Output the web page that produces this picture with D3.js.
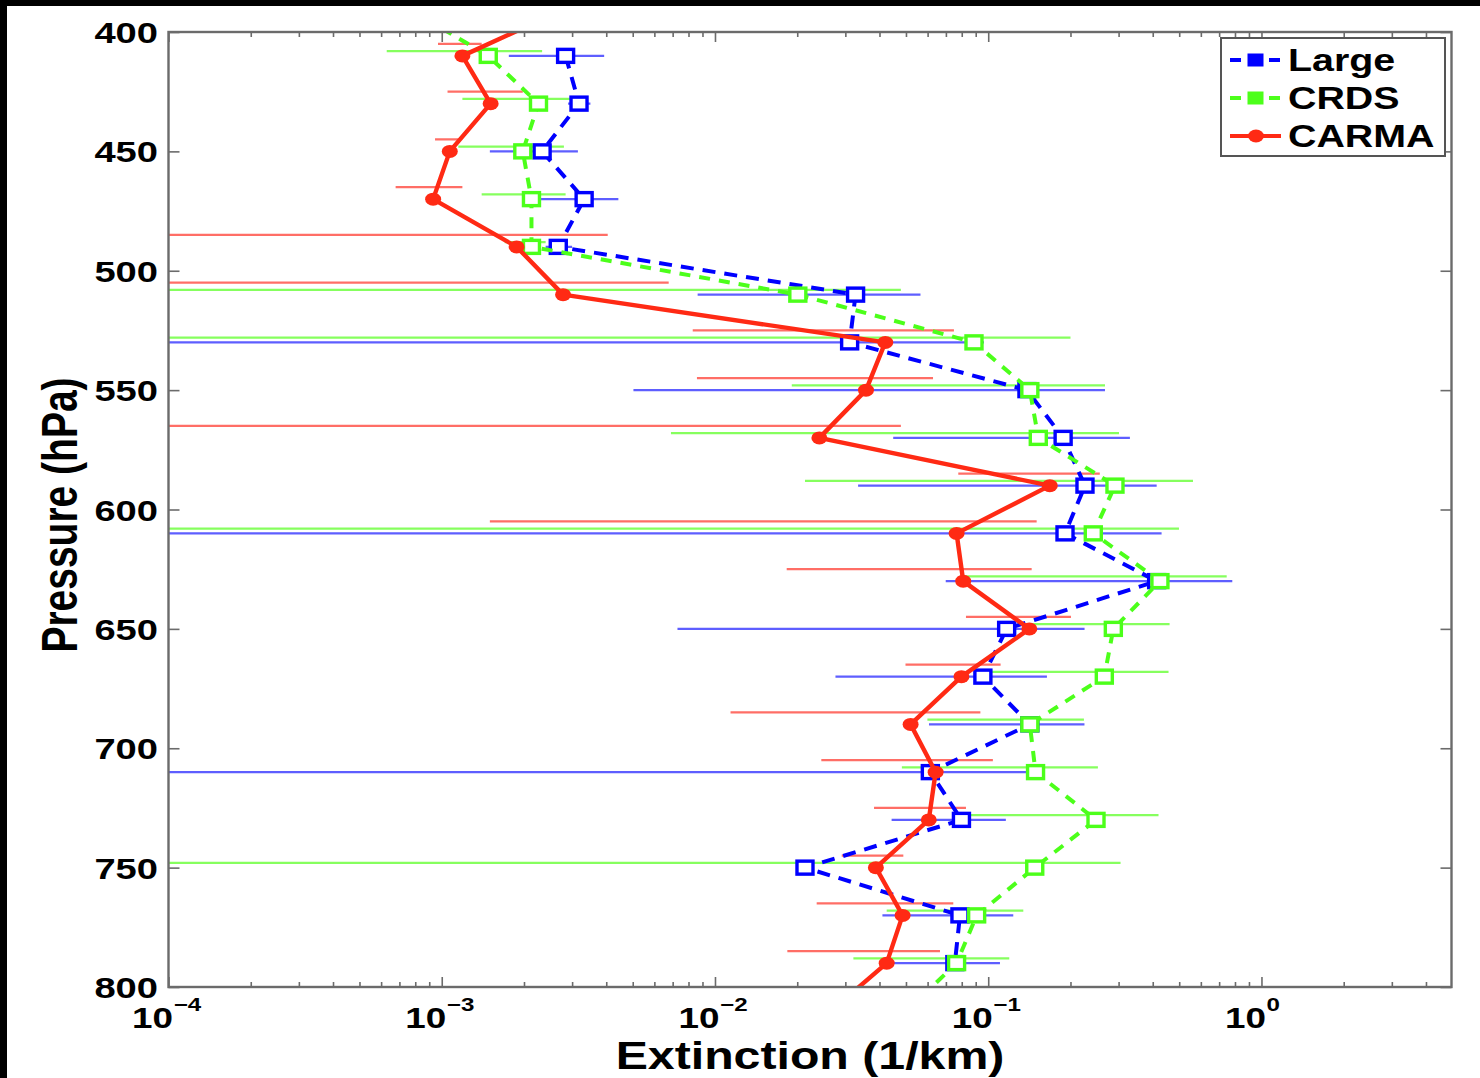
<!DOCTYPE html>
<html>
<head>
<meta charset="utf-8">
<script src="https://cdn.jsdelivr.net/npm/d3@7"></script>
<style>
  body { margin: 0; background: #fff; }
  svg { display: block; }
  text { font-family: "Liberation Sans", Arial, Helvetica, sans-serif; font-weight: bold; fill: #000; }
</style>
</head>
<body>
<svg id="chart" width="1480" height="1078"></svg>
<script>
// ---- data: extinction (1/km) against pressure (hPa) ----
const pressureLevels = [410, 430, 450, 470, 490, 510, 530, 550, 570, 590,
                        610, 630, 650, 670, 690, 710, 730, 750, 770, 790];
// CARMA and CRDS profiles continue one level beyond the plotted range at each end
const pressureExtended = [390, 410, 430, 450, 470, 490, 510, 530, 550, 570, 590,
                          610, 630, 650, 670, 690, 710, 730, 750, 770, 790, 810];

const largeValues = [2.84e-3, 3.18e-3, 2.33e-3, 3.32e-3, 2.67e-3, 0.0327, 0.0311, 0.1386, 0.188, 0.226,
                     0.191, 0.4135, 0.1168, 0.0956, 0.142, 0.0614, 0.0798, 0.02135, 0.0788, 0.0755];
const largeLow  = [1.76e-3, 2.9e-3, 1.50e-3, 2.23e-3, 2.4e-3, 8.64e-3, 0, 5.03e-3, 0.0449, 0.0334,
                   0, 0.0699, 7.29e-3, 0.0276, 0.0607, 0, 0.0443, 0.0200, 0.041, 0.0425];
const largeHigh = [3.93e-3, 3.5e-3, 3.15e-3, 4.43e-3, 3.0e-3, 0.0565, 0.0965, 0.2675, 0.330, 0.4135,
                   0.431, 0.782, 0.2252, 0.164, 0.225, 0.1434, 0.116, 0.023, 0.1235, 0.1104];

const crdsValues = [7.5e-4, 1.48e-3, 2.26e-3, 1.98e-3, 2.13e-3, 2.13e-3, 0.0201, 0.0887, 0.142, 0.1525, 0.291,
                    0.2424, 0.425, 0.287, 0.266, 0.142, 0.149, 0.248, 0.148, 0.0907, 0.0766, 0.0504];
const crdsLow  = [6.29e-4, 1.19e-3, 1.15e-3, 1.40e-3, 1.70e-3, 0, 0, 0.0191, 6.9e-3, 0.02135,
                  0, 0.080, 0.141, 0.1, 0.0599, 0.0483, 0.0788, 0, 0.0425, 0.0321];
const crdsHigh = [2.33e-3, 3.2e-3, 2.80e-3, 2.84e-3, 2.4e-3, 0.0479, 0.2, 0.2675, 0.301, 0.5615,
                  0.499, 0.746, 0.461, 0.457, 0.224, 0.252, 0.42, 0.305, 0.1344, 0.1194];

const carmaValues = [2.87e-3, 1.19e-3, 1.51e-3, 1.07e-3, 0.93e-3, 1.88e-3, 2.78e-3, 0.042, 0.0357, 0.0241, 0.168,
                     0.0766, 0.081, 0.1414, 0.0798, 0.052, 0.0642, 0.0606, 0.0388, 0.0486, 0.0425, 0.0266];
const carmaLow  = [0.969e-3, 1.05e-3, 0.945e-3, 0.678e-3, 0, 0, 8.29e-3, 8.59e-3, 0, 0.0777,
                   1.50e-3, 0.0183, 0.0829, 0.0498, 0.0114, 0.0245, 0.0382, 0.0291, 0.02356, 0.0184];
const carmaHigh = [1.40e-3, 1.98e-3, 1.15e-3, 1.19e-3, 4.05e-3, 6.77e-3, 0.0749, 0.0628, 0.0479, 0.256,
                   0.1504, 0.1442, 0.2008, 0.111, 0.0936, 0.104, 0.0829, 0.0489, 0.0745, 0.0666];

const seriesNames = ["Large", "CRDS", "CARMA"];
const xTickExponents = [-4, -3, -2, -1, 0];
const yTickValues = [400, 450, 500, 550, 600, 650, 700, 750, 800];
const xDomain = [1e-4, 4.96];
const yDomain = [400, 800];

// ---- layout ----
const SX = 1.27; // horizontal stretch applied to all text
const plot = { left: 168.5, right: 1451.5, top: 32, bottom: 987 };
const svg = d3.select("#chart");

svg.append("rect").attr("width", 1480).attr("height", 1078).attr("fill", "#fff");
svg.append("rect").attr("x", 0).attr("y", 0).attr("width", 1480).attr("height", 6).attr("fill", "#000");
svg.append("rect").attr("x", 0).attr("y", 0).attr("width", 7).attr("height", 1078).attr("fill", "#000");

const x = d3.scaleLog().domain(xDomain).range([plot.left, plot.right]);
const y = d3.scaleLinear().domain(yDomain).range([plot.top, plot.bottom]);

function stretchedText(parent, px, py, str, size, anchor) {
  const g = parent.append("g").attr("transform", `translate(${px},${py}) scale(${SX},1)`);
  g.append("text").attr("text-anchor", anchor || "start").style("font-size", size + "px").text(str);
  return g;
}

// ---- axes: inward ticks on all four sides ----
const majorTicks = xTickExponents.map(e => Math.pow(10, e));
const minorTicks = [];
xTickExponents.forEach(e => {
  for (let m = 2; m <= 9; m++) {
    const v = m * Math.pow(10, e);
    if (v <= xDomain[1]) minorTicks.push(v);
  }
});

const axisColor = "#6b6b6b";
function styleAxis(g) {
  g.select(".domain").remove();
  g.selectAll(".tick line").attr("stroke", axisColor).attr("stroke-width", 1.6);
  g.selectAll(".tick text").remove();
}
const axes = svg.append("g");
axes.append("g").attr("transform", `translate(0,${plot.bottom})`)
  .call(d3.axisBottom(x).tickValues(minorTicks).tickSize(-5)).call(styleAxis);
axes.append("g").attr("transform", `translate(0,${plot.bottom})`)
  .call(d3.axisBottom(x).tickValues(majorTicks).tickSize(-10)).call(styleAxis);
axes.append("g").attr("transform", `translate(0,${plot.top})`)
  .call(d3.axisTop(x).tickValues(minorTicks).tickSize(-5)).call(styleAxis);
axes.append("g").attr("transform", `translate(0,${plot.top})`)
  .call(d3.axisTop(x).tickValues(majorTicks).tickSize(-10)).call(styleAxis);
axes.append("g").attr("transform", `translate(${plot.left},0)`)
  .call(d3.axisLeft(y).tickValues(yTickValues).tickSize(-11)).call(styleAxis);
axes.append("g").attr("transform", `translate(${plot.right},0)`)
  .call(d3.axisRight(y).tickValues(yTickValues).tickSize(-11)).call(styleAxis);

// ---- data layer ----
svg.append("clipPath").attr("id", "plot-clip")
  .append("rect").attr("x", plot.left).attr("y", plot.top)
  .attr("width", plot.right - plot.left).attr("height", plot.bottom - plot.top);
const dataLayer = svg.append("g").attr("clip-path", "url(#plot-clip)");

const series = [
  { name: "Large", p: pressureLevels, v: largeValues, lo: largeLow, hi: largeHigh,
    color: "#0000ff", barColor: "#5e5eff", barOffset: 0, dash: "13,9", marker: "square" },
  { name: "CRDS", p: pressureExtended, v: crdsValues, lo: crdsLow, hi: crdsHigh,
    color: "#4cff1a", barColor: "#86ff5e", barOffset: 2, dash: "11,9", marker: "square" },
  { name: "CARMA", p: pressureExtended, v: carmaValues, lo: carmaLow, hi: carmaHigh,
    color: "#ff2a14", barColor: "#ff6e66", barOffset: 5, dash: null, marker: "circle" }
];

// horizontal error bars, each series nudged slightly upward so they do not overlap
series.forEach(s => {
  const bars = pressureLevels.map((p, i) => ({ p: p - s.barOffset, lo: s.lo[i], hi: s.hi[i] }));
  dataLayer.append("g").selectAll("line").data(bars).join("line")
    .attr("x1", d => d.lo > 0 ? x(d.lo) : plot.left)
    .attr("x2", d => x(d.hi))
    .attr("y1", d => y(d.p)).attr("y2", d => y(d.p))
    .attr("stroke", s.barColor).attr("stroke-width", 2.2);
});

// profile lines and markers
const line = d3.line().x(d => x(d.v)).y(d => y(d.p));
series.forEach(s => {
  const pts = s.p.map((p, i) => ({ p, v: s.v[i] }));
  const g = dataLayer.append("g");
  g.append("path").datum(pts).attr("d", line)
    .attr("fill", "none").attr("stroke", s.color)
    .attr("stroke-width", s.dash ? 4 : 4.4)
    .attr("stroke-dasharray", s.dash)
    .attr("stroke-linejoin", "round");
  if (s.marker === "square") {
    g.selectAll("rect").data(pts).join("rect")
      .attr("x", d => x(d.v) - 8).attr("y", d => y(d.p) - 6.5)
      .attr("width", 16).attr("height", 13)
      .attr("fill", "#fff").attr("stroke", s.color).attr("stroke-width", 3.4);
  } else {
    g.selectAll("ellipse").data(pts).join("ellipse")
      .attr("cx", d => x(d.v)).attr("cy", d => y(d.p))
      .attr("rx", 8).attr("ry", 6.5).attr("fill", s.color);
  }
});

// plot frame
svg.append("rect").attr("x", plot.left).attr("y", plot.top)
  .attr("width", plot.right - plot.left).attr("height", plot.bottom - plot.top)
  .attr("fill", "none").attr("stroke", axisColor).attr("stroke-width", 2.4);

// ---- tick labels ----
const labels = svg.append("g");
yTickValues.forEach(v => {
  stretchedText(labels, 158, y(v) + 11, String(v), 30, "end");
});
xTickExponents.forEach(e => {
  const tx = x(Math.pow(10, e)) + 4.5;
  const g = labels.append("g").attr("transform", `translate(${tx},1028) scale(${SX},1)`);
  g.append("text").attr("text-anchor", "end").style("font-size", "29px").text("10");
  const expText = e < 0 ? "\u2212" + Math.abs(e) : String(e);
  g.append("text").attr("x", 0.5).attr("y", -17).style("font-size", "19px").text(expText);
});

// ---- axis titles ----
stretchedText(svg, 810, 1069, "Extinction (1/km)", 38, "middle");
svg.append("g").attr("transform", `translate(77,515) scale(${SX},1) rotate(-90)`)
  .append("text").attr("text-anchor", "middle").style("font-size", "39px").text("Pressure (hPa)");

// ---- legend ----
const legend = svg.append("g");
legend.append("rect").attr("x", 1221).attr("y", 38).attr("width", 224).attr("height", 118)
  .attr("fill", "#fff").attr("stroke", "#555").attr("stroke-width", 2);
const legendRows = [60, 98, 136];
series.forEach((s, i) => {
  const cy = legendRows[i];
  const item = legend.append("g");
  if (s.dash) {
    item.append("line").attr("x1", 1230).attr("x2", 1241).attr("y1", cy).attr("y2", cy)
      .attr("stroke", s.color).attr("stroke-width", 4);
    item.append("line").attr("x1", 1269).attr("x2", 1280).attr("y1", cy).attr("y2", cy)
      .attr("stroke", s.color).attr("stroke-width", 4);
    item.append("rect").attr("x", 1248).attr("y", cy - 6).attr("width", 15).attr("height", 12)
      .attr("fill", s.color).attr("stroke", s.color).attr("stroke-width", 1);
  } else {
    item.append("line").attr("x1", 1230).attr("x2", 1281).attr("y1", cy).attr("y2", cy)
      .attr("stroke", s.color).attr("stroke-width", 4.2);
    item.append("ellipse").attr("cx", 1256).attr("cy", cy).attr("rx", 8).attr("ry", 6.5)
      .attr("fill", s.color);
  }
  stretchedText(item, 1288, cy + 11, seriesNames[i], 31, "start");
});
</script>
</body>
</html>
